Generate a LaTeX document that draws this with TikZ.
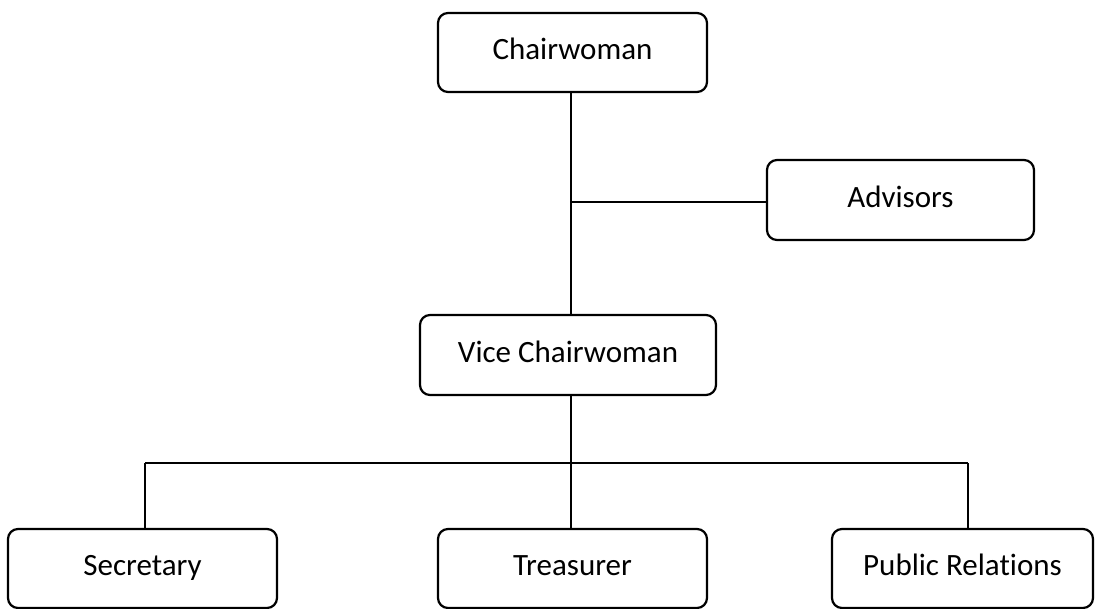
\documentclass[tikz,border=0pt]{standalone}
\usepackage{fontspec}
\setmainfont[RawFeature={-liga;-clig;-calt}]{Carlito}
\begin{document}
\begin{tikzpicture}[x=1pt,y=-1pt,
  post/.style={draw, line width=2.2pt, rounded corners=10pt, inner sep=0pt,
    text height=21pt, text depth=7pt, font=\fontsize{31}{37}\selectfont},
  link/.style={line width=2.2pt}]
  \useasboundingbox (0,0) rectangle (1095,608);
  % positions
  \node[post, minimum width=269pt, minimum height=79pt] (chair) at (572.5,52.5) {Chairwoman};
  \node[post, minimum width=267pt, minimum height=80pt] (adv) at (900.5,200) {Advisors};
  \node[post, minimum width=296pt, minimum height=80pt] (vice) at (568,355) {Vice Chairwoman};
  \node[post, minimum width=269pt, minimum height=79pt] (sec) at (142.5,568.5) {Secretary};
  \node[post, minimum width=269pt, minimum height=79pt] (treas) at (572.5,568.5) {Treasurer};
  \node[post, minimum width=261pt, minimum height=79pt] (pr) at (962.5,568.5) {Public Relations};
  % junction points
  \coordinate (advj) at (571,202);
  \coordinate (midj) at (571,463);
  \coordinate (leftj) at (145,463);
  \coordinate (rightj) at (968,463);
  % connectors
  \draw[link] (chair.south -| advj) -- (vice.north -| advj);
  \draw[link] (advj) -- (advj -| adv.west);
  \draw[link] (vice.south -| midj) -- (treas.north -| midj);
  \draw[link] (leftj) -- (rightj);
  \draw[link] (leftj) -- (leftj |- sec.north);
  \draw[link] (rightj) -- (rightj |- pr.north);
\end{tikzpicture}
\end{document}
